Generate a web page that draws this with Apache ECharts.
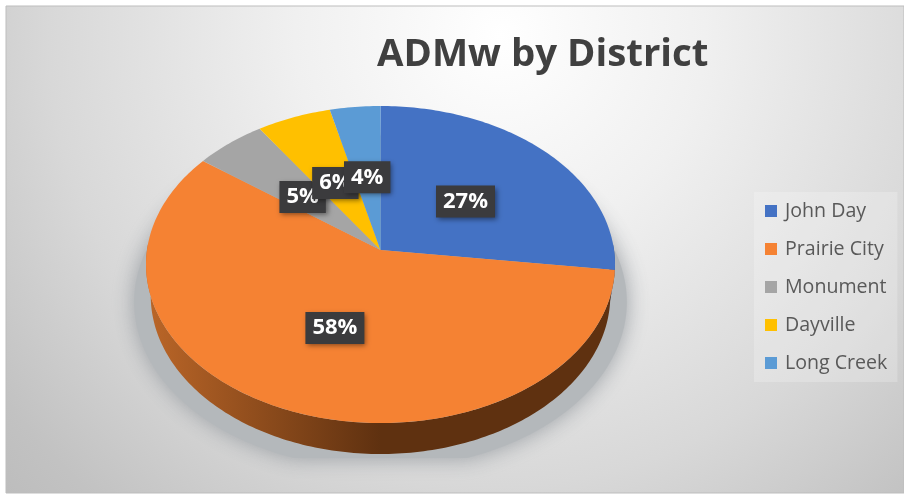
<!DOCTYPE html>
<html>
<head>
<meta charset="utf-8">
<style>
  html, body { margin: 0; padding: 0; background: #fff; }
  #main { width: 904px; height: 495px; }
</style>
<script src="https://cdn.jsdelivr.net/npm/echarts@6/dist/echarts.min.js"></script>
</head>
<body>
<div id="main"></div>
<script>
const districts = ['John Day', 'Prairie City', 'Monument', 'Dayville', 'Long Creek']
const shares = [27, 58.2, 5.4, 5.6, 3.8]
const sliceColors = ['#4472c4', '#f58233', '#a5a5a5', '#ffc000', '#5b9bd5']
const wallColors = [
  ['#2f5597', '#2f5597'],
  ['#bb6628', '#5f3110'],
  ['#666666', '#666666'],
  ['#a67c00', '#a67c00'],
  ['#3a6d9c', '#3a6d9c']
]

// the pie lies tilted: a flat disc seen through a projective squeeze
const CX = 380.5
const APEX_Y = 250
const RADIUS = 233.5
const TILT = -0.0915
const SQUEEZE = 134.3
const DEPTH = 31

function project(r, deg) {
  const rad = (deg * Math.PI) / 180
  const u = r * Math.sin(rad)
  const v = -r * Math.cos(rad)
  const w = TILT * v + 1
  return [CX + (RADIUS * u) / w, (SQUEEZE * v + APEX_Y) / w]
}

function arcPoints(from, to, r) {
  const pts = []
  const steps = Math.max(2, Math.ceil(Math.abs(to - from)))
  for (let i = 0; i <= steps; i++) {
    pts.push(project(r || 1, from + ((to - from) * i) / steps))
  }
  return pts
}

const total = shares.reduce((a, b) => a + b, 0)

function sliceRenderer(index) {
  return function () {
    const before = shares.slice(0, index).reduce((a, b) => a + b, 0)
    const start = (before / total) * 360
    const end = ((before + shares[index]) / total) * 360
    const mid = (start + end) / 2
    const children = []

    // side wall only where the rim faces us, the lower rim sits a bit further in
    const wallFrom = Math.max(start, 88)
    const wallTo = Math.min(end, 272)
    if (wallTo > wallFrom) {
      const top = arcPoints(wallFrom, wallTo)
      const bottom = top
        .map((p) => [CX + (p[0] - CX) * 0.98, p[1] + DEPTH])
        .reverse()
      children.push({
        type: 'polygon',
        shape: { points: top.concat(bottom) },
        style: {
          fill: new echarts.graphic.LinearGradient(0, 0, 1, 0, [
            { offset: 0, color: wallColors[index][0] },
            { offset: 0.5, color: wallColors[index][1] },
            { offset: 1, color: wallColors[index][1] }
          ], false)
        }
      })
    }

    children.push({
      type: 'polygon',
      shape: { points: [project(0, 0)].concat(arcPoints(start, end)) },
      style: { fill: sliceColors[index] }
    })

    const at = project(0.5, mid)
    children.push({
      type: 'text',
      x: at[0],
      y: at[1] + 2,
      z2: 10,
      style: {
        text: Math.round(shares[index]) + '%',
        align: 'center',
        verticalAlign: 'middle',
        fill: '#ffffff',
        font: 'bold 22px "Open Sans"',
        backgroundColor: '#3b3b3d',
        padding: [5, 7, 5, 7],
        shadowColor: 'rgba(0,0,0,0.45)',
        shadowBlur: 5,
        shadowOffsetX: 2,
        shadowOffsetY: 2
      }
    })
    return { type: 'group', children: children }
  }
}

function shadowRenderer() {
  // soft shadow under the pie, flattened where the reference cuts it off
  const pts = arcPoints(0, 360, 1.05).map((p) => [p[0], Math.min(p[1] + 36, 458)])
  return {
    type: 'polygon',
    shape: { points: pts },
    style: {
      fill: '#b4b8bb',
      shadowColor: 'rgba(150,155,160,0.95)',
      shadowBlur: 22
    }
  }
}

const chart = echarts.init(document.getElementById('main'), null, { renderer: 'canvas' })

const series = [
  {
    type: 'custom',
    name: 'shadow',
    coordinateSystem: 'none',
    silent: true,
    z: 1,
    data: [0],
    renderItem: shadowRenderer
  }
].concat(
  districts.map((name, i) => ({
    type: 'custom',
    name: name,
    coordinateSystem: 'none',
    // later series on top so the small labels stack 5% under 6% under 4%
    z: 2 + i,
    itemStyle: { color: sliceColors[i] },
    data: [shares[i]],
    renderItem: sliceRenderer(i)
  }))
)

chart.setOption({
  animation: false,
  graphic: [
    {
      type: 'rect',
      z: -10,
      silent: true,
      shape: { x: 6, y: 6, width: 898, height: 487 },
      style: {
        fill: new echarts.graphic.RadialGradient(0.55, 0.06, 1.4, [
          { offset: 0, color: '#ffffff' },
          { offset: 0.3, color: '#f0f0f0' },
          { offset: 0.66, color: '#d8d8d8' },
          { offset: 0.9, color: '#c2c2c2' },
          { offset: 1, color: '#bcbcbc' }
        ]),
        stroke: '#bdbdbd',
        lineWidth: 1
      }
    }
  ],
  title: {
    text: 'ADMw by District',
    left: 372,
    top: 31,
    textStyle: {
      color: '#404040',
      fontFamily: 'Open Sans',
      fontWeight: 'bold',
      fontSize: 38.4
    }
  },
  legend: {
    orient: 'vertical',
    left: 754,
    top: 192,
    data: districts,
    icon: 'rect',
    itemWidth: 12,
    itemHeight: 12,
    itemGap: 18,
    padding: [9, 10, 9, 11],
    backgroundColor: 'rgba(255,255,255,0.22)',
    selectedMode: false,
    textStyle: {
      color: '#595959',
      fontFamily: 'Open Sans',
      fontSize: 19.6,
      lineHeight: 20,
      padding: [0, 0, 0, 3]
    }
  },
  series: series
})
</script>
</body>
</html>
